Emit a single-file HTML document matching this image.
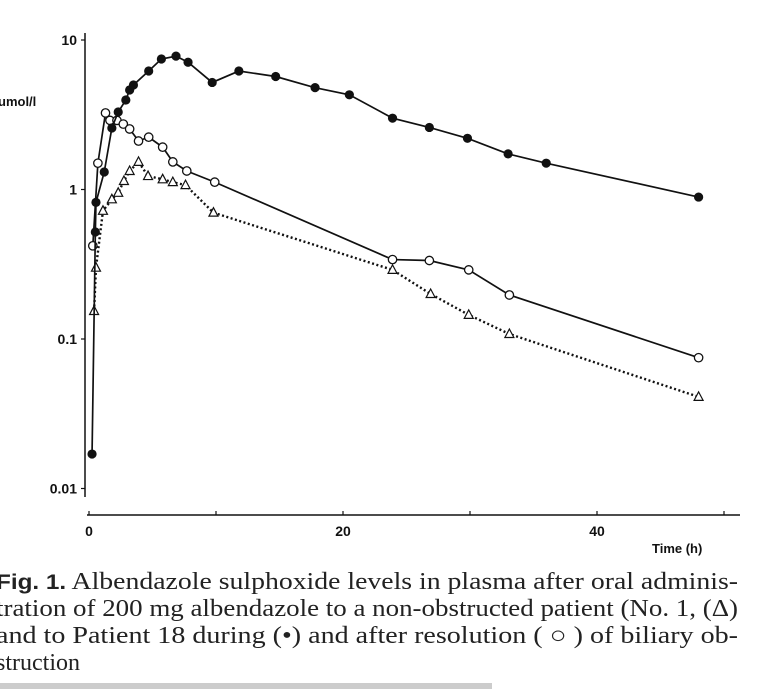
<!DOCTYPE html>
<html><head><meta charset="utf-8"><style>
body{margin:0;background:#fff;width:780px;height:689px;overflow:hidden;position:relative;font-family:"Liberation Serif",serif}
svg{position:absolute;left:0;top:0}
.cap{position:absolute;left:-4px;font-size:24px;color:#222;white-space:nowrap;line-height:27px}
.cap div{transform-origin:0 0;display:block;width:max-content}
</style></head><body>
<svg id="chart" width="780" height="689"></svg>
<div class="cap" style="top:569px">
<div><b style="font-family:'Liberation Sans',sans-serif;font-size:21px">Fig. 1.</b> Albendazole sulphoxide levels in plasma after oral adminis-</div>
<div>tration of 200 mg albendazole to a non-obstructed patient (No. 1, (Δ)</div>
<div>and to Patient 18 during (•) and after resolution ( ○ ) of biliary ob-</div>
<div>struction</div>
</div>
<div style="position:absolute;left:0;top:683px;width:492px;height:6px;background:#ccc"></div>
<script>
const filledT=[0.24,0.5,0.55,1.2,1.8,2.3,2.9,3.2,3.5,4.7,5.7,6.85,7.8,9.7,11.8,14.7,17.8,20.5,23.9,26.8,29.8,33.0,36.0,48.0];
const filledV=[0.017,0.52,0.82,1.31,2.58,3.3,3.97,4.63,5.0,6.2,7.46,7.8,7.1,5.2,6.2,5.7,4.8,4.3,3.0,2.6,2.2,1.73,1.5,0.89];
const openT=[0.3,0.7,1.3,1.65,2.2,2.7,3.2,3.9,4.7,5.8,6.6,7.7,9.9,23.9,26.8,29.9,33.1,48.0];
const openV=[0.42,1.5,3.25,2.9,2.9,2.74,2.54,2.11,2.24,1.92,1.53,1.33,1.12,0.34,0.335,0.29,0.197,0.075];
const triT=[0.4,0.55,1.1,1.8,2.3,2.75,3.2,3.9,4.65,5.8,6.6,7.6,9.8,23.9,26.9,29.9,33.1,48.0];
const triV=[0.154,0.30,0.72,0.86,0.95,1.14,1.33,1.53,1.23,1.17,1.12,1.07,0.70,0.29,0.20,0.145,0.108,0.041];
const xTicks=[0,10,20,30,40,50];
const xLabels=[0,20,40];
const yTicks=[10,1,0.1,0.01];
const yLabels=["10","1","0.1","0.01"];
const svg=document.getElementById('chart');const NS='http://www.w3.org/2000/svg';
const X=t=>89+t*12.7;
const Y=v=>40+(1-Math.log10(v))*149.5;
function mk(tag,at,parent){const e=document.createElementNS(NS,tag);for(const k in at)e.setAttribute(k,at[k]);(parent||svg).appendChild(e);return e;}
let e=mk('line',{x1:85,y1:33,x2:85,y2:497,stroke:'#111','stroke-width':1.5});


e=mk('line',{x1:87,y1:515,x2:740,y2:515,stroke:'#111','stroke-width':1.5});


yTicks.forEach((v,i)=>{mk('line',{x1:81,y1:Y(v),x2:85,y2:Y(v),stroke:'#111','stroke-width':1.2});
const t=mk('text',{x:77,y:Y(v)+5,'text-anchor':'end','font-family':'Liberation Sans,sans-serif','font-size':14,'font-weight':'bold',fill:'#111'});t.textContent=yLabels[i];

});
xTicks.forEach(v=>{mk('line',{x1:X(v),y1:511,x2:X(v),y2:515,stroke:'#111','stroke-width':1.2});});
xLabels.forEach(v=>{const t=mk('text',{x:X(v),y:536,'text-anchor':'middle','font-family':'Liberation Sans,sans-serif','font-size':14,'font-weight':'bold',fill:'#111'});t.textContent=v;

});
e=mk('text',{x:-2,y:106,'font-family':'Liberation Sans,sans-serif','font-size':13,'font-weight':'bold',fill:'#111'});e.textContent='umol/l';


e=mk('text',{x:652,y:553,'font-family':'Liberation Sans,sans-serif','font-size':13,'font-weight':'bold',fill:'#111'});e.textContent='Time  (h)';


function series(T,V,name,dash,mark){const g=mk('g',{});


const pts=T.map((t,i)=>X(t)+','+Y(V[i])).join(' ');
mk('polyline',{points:pts,fill:'none',stroke:'#111','stroke-width':dash?2.4:1.7,'stroke-dasharray':dash||'none'},g);
T.forEach((t,i)=>{const x=X(t),y=Y(V[i]);
if(mark==='filled')mk('circle',{cx:x,cy:y,r:4.6,fill:'#111'},g);
else if(mark==='open')mk('circle',{cx:x,cy:y,r:4.2,fill:'#fff',stroke:'#111','stroke-width':1.3},g);
else mk('polygon',{points:`${x},${y-5} ${x-4.5},${y+3.5} ${x+4.5},${y+3.5}`,fill:'#fff',stroke:'#111','stroke-width':1.2},g);});}
series(triT,triV,'series-non-obstructed','2 2.5','tri');
series(openT,openV,'series-after-resolution',null,'open');
series(filledT,filledV,'series-during-obstruction',null,'filled');
// stretch first three caption lines to the justified width of the reference
const lines=document.querySelectorAll('.cap div');
[0,1,2].forEach(i=>{const w=lines[i].getBoundingClientRect().width;lines[i].style.transform='scaleX('+(742/w)+')';});
</script>
</body></html>
